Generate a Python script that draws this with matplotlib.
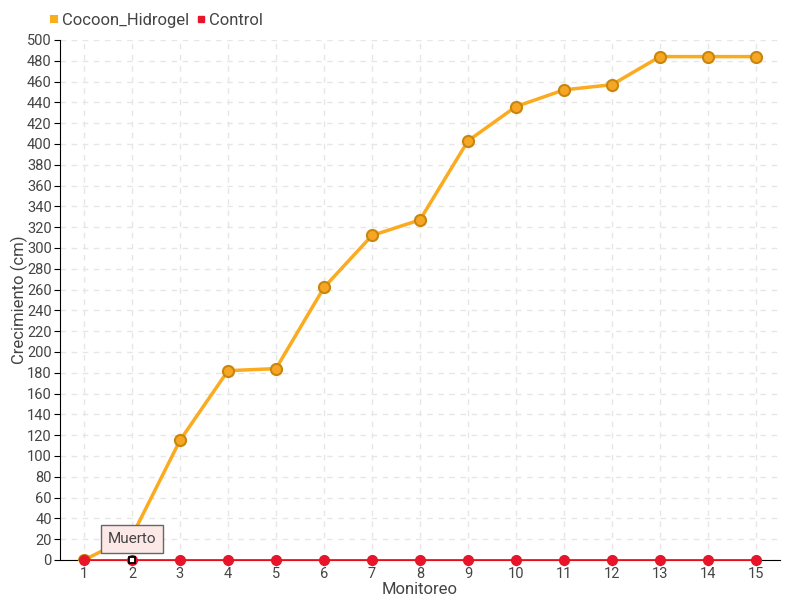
import matplotlib
matplotlib.use('Agg')
import matplotlib.pyplot as plt

plt.rcParams['font.family'] = ['Roboto', 'DejaVu Sans']

monitoreo = list(range(1, 16))
cocoon_hidrogel = [0, 23, 115, 182, 184, 262, 312, 327, 403, 436, 452, 457, 484, 484, 484]
control = [0] * 15

fig = plt.figure(figsize=(8, 6), dpi=100)
ax = fig.add_axes([0.075, 0.0667, 0.9, 0.8667])

# Cocoon line
ax.plot(monitoreo, cocoon_hidrogel, color='#fbab1f', lw=2.5, marker='o', ms=8,
        mfc='#f6a623', mec='#c8860f', mew=1.5, zorder=3, label='Cocoon_Hidrogel')
# Control line
ax.plot(monitoreo, control, color='#ff1020', lw=1.3, marker='o', ms=7,
        mfc='#e8142a', mec='#e8142a', zorder=5, clip_on=False, label='Control')

# highlighted point (tooltip)
ax.plot([2], [0], marker='s', ms=5, mfc='white', mec='black', mew=1.3, zorder=6,
        clip_on=False)
ax.annotate('Muerto', xy=(2, 2), xytext=(2, 20), ha='center', va='center',
            fontsize=11, color='#444444', zorder=7,
            bbox=dict(boxstyle='square,pad=0.45', fc='#fde8e8', ec='#666666', lw=1))

ax.set_xlim(0.5, 15.5)
ax.set_ylim(0, 500)
ax.set_xticks(monitoreo)
ax.set_yticks(range(0, 501, 20))
ax.tick_params(axis='both', labelsize=10.5, colors='#444444', length=4)
ax.tick_params(axis='y', colors='black', labelcolor='#444444', pad=2)
ax.tick_params(axis='x', pad=1, color='#aaaaaa')
ax.grid(True, color='#e6e6e6', ls=(0, (4, 4)), lw=1)
ax.set_axisbelow(True)

for s in ['top', 'right']:
    ax.spines[s].set_visible(False)
ax.spines['left'].set_color('black')
ax.spines['bottom'].set_color('black')

ax.set_xlabel('Monitoreo', fontsize=12, color='#444444')
ax.set_ylabel('Crecimiento (cm)', fontsize=12, color='#444444')
ax.xaxis.set_label_coords(0.5, -0.043)
ax.yaxis.set_label_coords(-0.044, 0.5)

leg = ax.legend(loc='lower left', bbox_to_anchor=(-0.025, 1.01), ncol=2, frameon=False,
                fontsize=12, handlelength=0.6, handletextpad=0.2, columnspacing=0.4,
                markerscale=0.6, borderaxespad=0)
for h, c in zip(leg.legend_handles, ['#f6b01e', '#e8142a']):
    h.set_linestyle('')
    h.set_marker('s')
    h.set_markerfacecolor(c)
    h.set_markeredgecolor(c)
for t in leg.get_texts():
    t.set_color('#444444')

fig.savefig('out.png', dpi=100)
